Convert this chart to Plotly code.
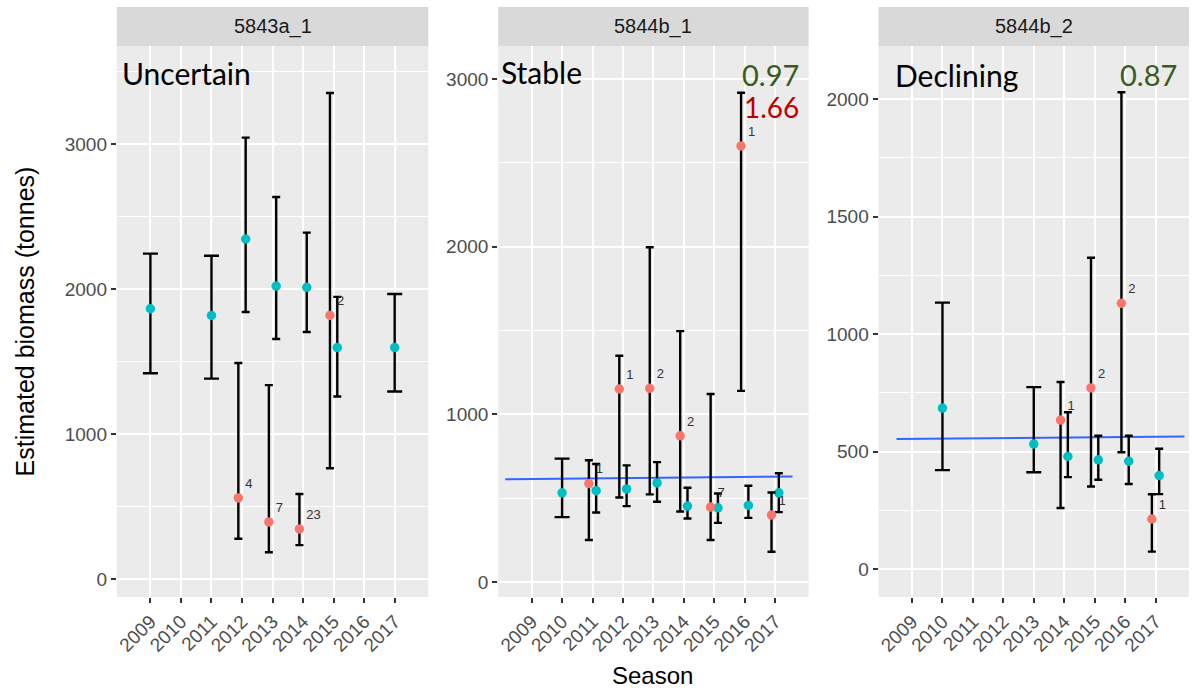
import plotly.graph_objects as go

# ---------------- data ----------------
years = [2009, 2010, 2011, 2012, 2013, 2014, 2015, 2016, 2017]
tick_labels = [str(y) for y in years]
panel_titles = ["5843a_1", "5844b_1", "5844b_2"]
status_labels = ["Uncertain", "Stable", "Declining"]

# panel 1 : 5843a_1
p1_teal_year = [2009, 2011, 2012, 2013, 2014, 2015, 2017]
p1_teal_est = [1864, 1818, 2345, 2020, 2012, 1596, 1596]
p1_teal_lo = [1419, 1382, 1842, 1655, 1704, 1259, 1293]
p1_teal_hi = [2244, 2229, 3044, 2635, 2389, 1946, 1966]
p1_red_year = [2012, 2013, 2014, 2015]
p1_red_est = [559, 394, 345, 1818]
p1_red_lo = [278, 185, 234, 764]
p1_red_hi = [1490, 1337, 586, 3352]
p1_red_lab = ["4", "7", "23", "2"]

# panel 2 : 5844b_1
p2_teal_year = [2010, 2011, 2012, 2013, 2014, 2015, 2016, 2017]
p2_teal_est = [532, 545, 555, 591, 453, 443, 457, 532]
p2_teal_lo = [387, 415, 453, 479, 379, 353, 383, 417]
p2_teal_hi = [736, 704, 696, 715, 562, 528, 574, 649]
p2_red_year = [2011, 2012, 2013, 2014, 2015, 2016, 2017]
p2_red_est = [587, 1151, 1155, 872, 447, 2600, 400]
p2_red_lo = [251, 504, 523, 421, 251, 1140, 181]
p2_red_hi = [726, 1349, 1996, 1496, 1121, 2917, 534]
p2_red_lab = ["1", "1", "2", "2", "7", "1", "1"]
p2_trend_x = [2008.13, 2017.57]
p2_trend_y = [613, 630]

# panel 3 : 5844b_2
p3_teal_year = [2010, 2013, 2014, 2015, 2016, 2017]
p3_teal_est = [685, 532, 479, 465, 459, 398]
p3_teal_lo = [421, 412, 391, 380, 362, 319]
p3_teal_hi = [1134, 774, 667, 567, 567, 512]
p3_red_year = [2014, 2015, 2016, 2017]
p3_red_est = [634, 771, 1131, 213]
p3_red_lo = [260, 351, 497, 74]
p3_red_hi = [796, 1325, 2029, 318]
p3_red_lab = ["1", "2", "2", "1"]
p3_trend_x = [2008.49, 2017.95]
p3_trend_y = [553, 564]

ratio_values = [None, ("0.97", "1.66"), ("0.87", None)]

# ---------------- style ----------------
W, H = 1192, 691
TEAL = "#00BFC4"
RED = "#F8766D"
PANEL_BG = "#EBEBEB"
STRIP_BG = "#D9D9D9"
TREND = "#3366FF"
TICK_COL = "#4D4D4D"
BASE_FONT = "Liberation Sans, Arial, sans-serif"
NOTE_FONT = "Lato, Open Sans, sans-serif"

panel_px = [(115, 427), (497, 808), (878, 1189)]
plot_top, plot_bottom, strip_top = 46, 597, 7
y_ranges = [[-124, 3676], [-89, 3196], [-119, 2226]]
y_dticks = [1000, 1000, 500]
x_range = [2007.9, 2018.1]
dodge = 0.12

panels = [
    dict(ty=p1_teal_year, te=p1_teal_est, tl=p1_teal_lo, th=p1_teal_hi,
         ry=p1_red_year, re=p1_red_est, rl=p1_red_lo, rh=p1_red_hi, rlab=p1_red_lab,
         tx=None, tyv=None),
    dict(ty=p2_teal_year, te=p2_teal_est, tl=p2_teal_lo, th=p2_teal_hi,
         ry=p2_red_year, re=p2_red_est, rl=p2_red_lo, rh=p2_red_hi, rlab=p2_red_lab,
         tx=p2_trend_x, tyv=p2_trend_y),
    dict(ty=p3_teal_year, te=p3_teal_est, tl=p3_teal_lo, th=p3_teal_hi,
         ry=p3_red_year, re=p3_red_est, rl=p3_red_lo, rh=p3_red_hi, rlab=p3_red_lab,
         tx=p3_trend_x, tyv=p3_trend_y),
]

fig = go.Figure()


def add_group(axn, yrs, est, lo, hi, color, offset, other_years, labels=None):
    # split into dodged and single points (different cap widths)
    for dodged in (False, True):
        idx = [i for i, y in enumerate(yrs) if (y in other_years) == dodged]
        if not idx:
            continue
        xs = [yrs[i] + (offset if dodged else 0) for i in idx]
        ys = [est[i] for i in idx]
        up = [hi[i] - est[i] for i in idx]
        dn = [est[i] - lo[i] for i in idx]
        tr = dict(
            x=xs, y=ys, xaxis="x" + axn, yaxis="y" + axn,
            mode="markers",
            marker=dict(color=color, size=9.5),
            error_y=dict(type="data", symmetric=False, array=up, arrayminus=dn,
                         color="black", thickness=2.4, width=4 if dodged else 7.5),
            showlegend=False, hoverinfo="x+y",
        )
        if labels is not None:
            tr["mode"] = "markers+text"
            tr["text"] = [labels[i] for i in idx]
            tr["textposition"] = "top right"
            tr["textfont"] = dict(size=13, color="#333333", family=BASE_FONT)
        fig.add_trace(go.Scatter(**tr))


for k, p in enumerate(panels):
    axn = "" if k == 0 else str(k + 1)
    if p["tx"] is not None:
        fig.add_trace(go.Scatter(x=p["tx"], y=p["tyv"], xaxis="x" + axn, yaxis="y" + axn,
                                 mode="lines", line=dict(color=TREND, width=2),
                                 showlegend=False, hoverinfo="skip"))
    add_group(axn, p["ty"], p["te"], p["tl"], p["th"], TEAL, dodge, set(p["ry"]))
    add_group(axn, p["ry"], p["re"], p["rl"], p["rh"], RED, -dodge, set(p["ty"]), p["rlab"])

y_dom = [(H - plot_bottom) / H, (H - plot_top) / H]
layout = dict(
    width=W, height=H,
    margin=dict(l=0, r=0, t=0, b=0),
    paper_bgcolor="white", plot_bgcolor=PANEL_BG,
    font=dict(family=BASE_FONT, color=TICK_COL, size=19),
    showlegend=False,
)
shapes, annotations = [], []
for k in range(3):
    axn = "" if k == 0 else str(k + 1)
    x0, x1 = panel_px[k]
    layout["xaxis" + axn] = dict(
        domain=[x0 / W, x1 / W], anchor="y" + axn, range=x_range,
        tickvals=years, ticktext=tick_labels, tickangle=-45,
        ticks="outside", ticklen=5, tickwidth=2, tickcolor="#333333",
        showgrid=True, gridcolor="white", gridwidth=1.5, zeroline=False,
        showline=False, tickfont=dict(size=19, color=TICK_COL),
    )
    layout["yaxis" + axn] = dict(
        domain=y_dom, anchor="x" + axn, range=y_ranges[k],
        tick0=0, dtick=y_dticks[k],
        ticks="outside", ticklen=5, tickwidth=2, tickcolor="#333333",
        showgrid=True, gridcolor="white", gridwidth=1.5, zeroline=False,
        showline=False, tickfont=dict(size=19, color=TICK_COL),
        minor=dict(dtick=y_dticks[k] / 2, tick0=0, showgrid=True,
                   gridcolor="white", gridwidth=0.7, ticks=""),
    )
    # facet strip
    shapes.append(dict(type="rect", xref="paper", yref="paper",
                       x0=x0 / W, x1=x1 / W, y0=(H - plot_top) / H, y1=(H - strip_top) / H,
                       fillcolor=STRIP_BG, line=dict(width=0), layer="below"))
    annotations.append(dict(text=panel_titles[k], xref="paper", yref="paper",
                            x=(x0 + x1) / 2 / W, y=(H - (plot_top + strip_top) / 2) / H,
                            showarrow=False, xanchor="center", yanchor="middle",
                            font=dict(size=20, color="#1A1A1A")))
    # status label
    annotations.append(dict(text=status_labels[k], xref="x" + axn + " domain",
                            yref="y" + axn + " domain",
                            x=[0.010, 0.004, 0.046][k], y=[0.951, 0.953, 0.947][k],
                            showarrow=False, xanchor="left", yanchor="middle",
                            font=dict(size=30, color="black", family=NOTE_FONT)))
    rv = ratio_values[k]
    if rv is not None:
        if rv[0]:
            annotations.append(dict(text=rv[0], xref="x" + axn + " domain",
                                    yref="y" + axn + " domain",
                                    x=[0, 0.976, 0.967][k], y=0.949,
                                    showarrow=False, xanchor="right", yanchor="middle",
                                    font=dict(size=29, color="#3A5A1E", family=NOTE_FONT)))
        if rv[1]:
            annotations.append(dict(text=rv[1], xref="x" + axn + " domain",
                                    yref="y" + axn + " domain",
                                    x=0.976, y=0.889,
                                    showarrow=False, xanchor="right", yanchor="middle",
                                    font=dict(size=28, color="#C00000", family=NOTE_FONT)))

# axis titles
annotations.append(dict(text="Estimated biomass (tonnes)", xref="paper", yref="paper",
                        x=23 / W, y=(H - (plot_top + plot_bottom) / 2) / H, textangle=-90,
                        showarrow=False, xanchor="center", yanchor="middle",
                        font=dict(size=25, color="black")))
annotations.append(dict(text="Season", xref="paper", yref="paper",
                        x=(panel_px[0][0] + panel_px[2][1]) / 2 / W, y=(H - 675) / H,
                        showarrow=False, xanchor="center", yanchor="middle",
                        font=dict(size=24, color="black")))
layout["shapes"] = shapes
layout["annotations"] = annotations
fig.update_layout(**layout)
fig.write_html("out.html")
